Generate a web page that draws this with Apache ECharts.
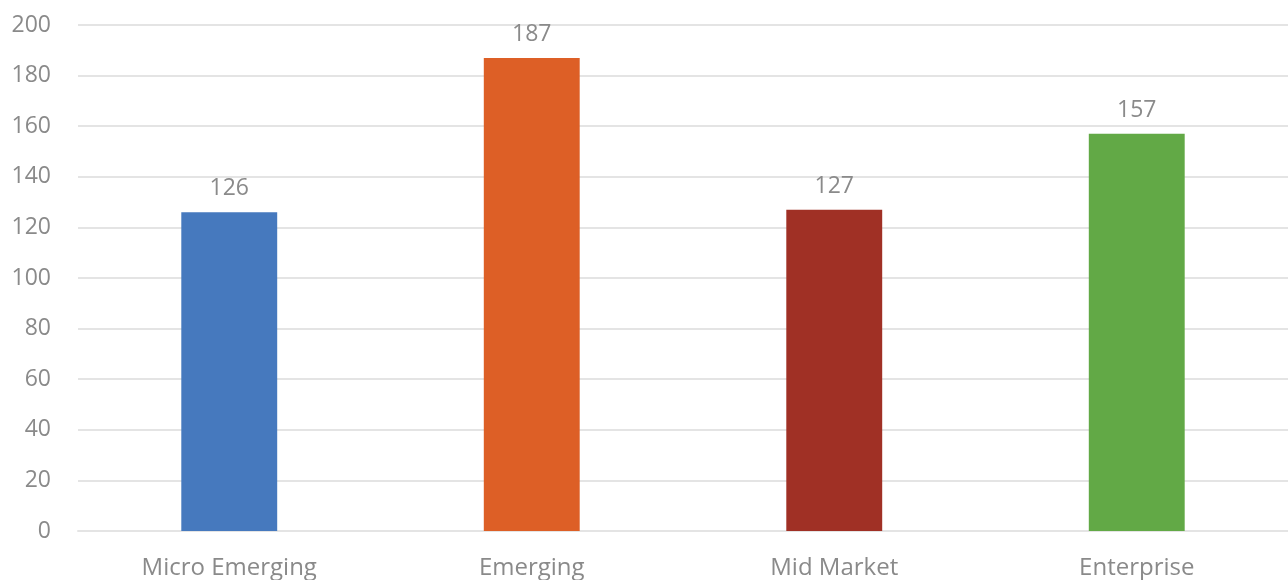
<!DOCTYPE html>
<html>
<head>
<meta charset="utf-8">
<script src="https://cdn.jsdelivr.net/npm/echarts@6/dist/echarts.min.js"></script>
<style>
  html, body { margin: 0; padding: 0; background: #fff; }
  #chart { width: 1288px; height: 580px; }
</style>
</head>
<body>
<div id="chart"></div>
<script>
// Segment counts by market tier
const categories = ['Micro Emerging', 'Emerging', 'Mid Market', 'Enterprise'];
const counts = [126, 187, 127, 157];
const barColors = ['#4679be', '#dd5f26', '#a03025', '#62a946'];
const yTicks = { min: 0, max: 200, interval: 20 };

const FONT = '"Open Sans", "Noto Sans", sans-serif';
const TEXT_GRAY = '#8a8a8a';

const chart = echarts.init(document.getElementById('chart'), null, { renderer: 'canvas' });

chart.setOption({
  animation: false,
  backgroundColor: '#ffffff',
  grid: { left: 78, right: 0, top: 25, bottom: 49, containLabel: false },
  xAxis: {
    type: 'category',
    data: categories,
    axisLine: { show: true, lineStyle: { color: '#e4e4e4', width: 2 } },
    axisTick: { show: false },
    axisLabel: {
      color: TEXT_GRAY,
      fontFamily: FONT,
      fontSize: 24,
      margin: 25
    }
  },
  yAxis: {
    type: 'value',
    min: yTicks.min,
    max: yTicks.max,
    interval: yTicks.interval,
    axisLine: { show: false },
    axisTick: { show: false },
    splitLine: { lineStyle: { color: '#e4e4e4', width: 2 } },
    axisLabel: {
      color: TEXT_GRAY,
      fontFamily: FONT,
      fontSize: 23,
      margin: 27
    }
  },
  series: [{
    type: 'bar',
    data: counts.map((v, i) => ({ value: v, itemStyle: { color: barColors[i] } })),
    barWidth: '31.7%',
    label: {
      show: true,
      position: 'top',
      distance: 12,
      color: TEXT_GRAY,
      fontFamily: FONT,
      fontSize: 23
    }
  }]
});
</script>
</body>
</html>
